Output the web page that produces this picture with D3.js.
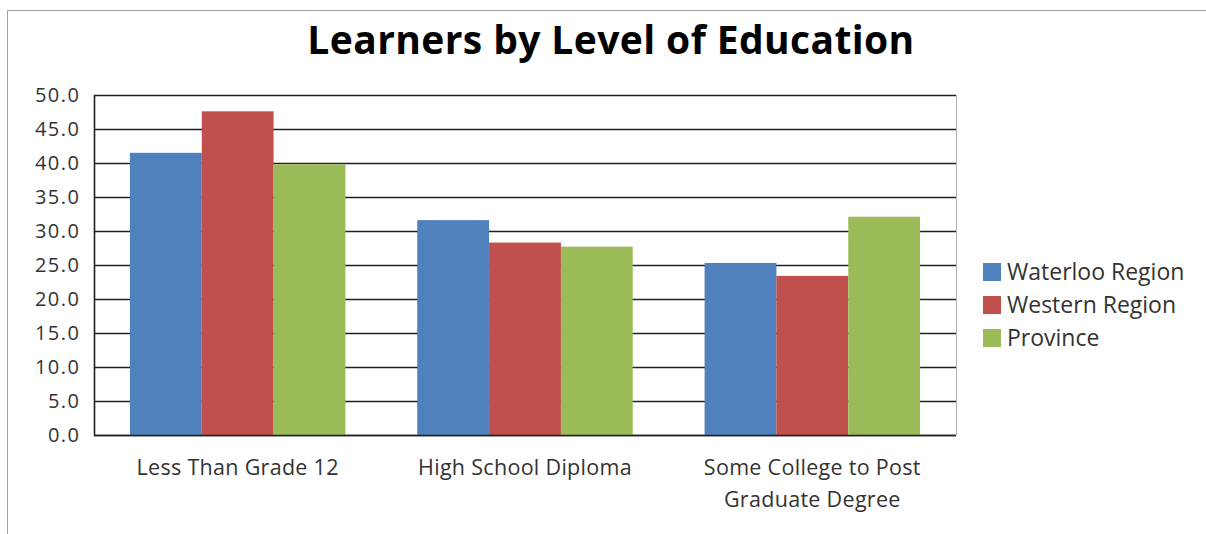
<!DOCTYPE html>
<html><head><meta charset="utf-8">
<script src="https://cdn.jsdelivr.net/npm/d3@7"></script>
<style>html,body{margin:0;padding:0;background:#fff;}svg{display:block;}</style>
</head><body>
<svg id="chart" width="1206" height="534"></svg>
<script>
const categories = ["Less Than Grade 12", "High School Diploma", "Some College to Post Graduate Degree"];
const categoryLines = [["Less Than Grade 12"], ["High School Diploma"], ["Some College to Post", "Graduate Degree"]];
const seriesNames = ["Waterloo Region", "Western Region", "Province"];
const waterloo = [41.5, 31.6, 25.3];
const western = [47.6, 28.3, 23.4];
const province = [39.8, 27.7, 32.1];
const yTicks = [0, 5, 10, 15, 20, 25, 30, 35, 40, 45, 50];
const colors = ["#4F81BD", "#C0504D", "#9BBB59"];
const seriesValues = [waterloo, western, province];

const svg = d3.select("#chart");
const font = "'Open Sans', sans-serif";
const textColor = "#333";

// outer frame
svg.append("path").attr("d", "M7.5,534 V10.5 H1206").attr("fill", "none").attr("stroke", "#a0a0a0").attr("stroke-width", 1);

const L = 94, R = 956, T = 95, B = 435;
const x0 = d3.scaleBand().domain(categories).range([L, R]).padding(0);
const x1 = d3.scaleBand().domain(seriesNames).range([0, x0.bandwidth()]).paddingInner(0).paddingOuter(0.5);
const y = d3.scaleLinear().domain([0, 50]).range([B, T]);

// plot border right (gray)
svg.append("line").attr("x1", R + 0.5).attr("x2", R + 0.5).attr("y1", T).attr("y2", B).attr("stroke", "#b0b0b0");

// gridlines
svg.append("g").selectAll("line").data(yTicks).join("line")
  .attr("x1", L).attr("x2", R)
  .attr("y1", d => Math.round(y(d)) + 0.5).attr("y2", d => Math.round(y(d)) + 0.5)
  .attr("stroke", "#202020").attr("stroke-width", 1.6);

// bars
const groups = svg.append("g").selectAll("g").data(categories).join("g")
  .attr("transform", d => `translate(${x0(d)},0)`);
groups.selectAll("rect").data((c, i) => seriesNames.map((s, j) => ({s, j, v: seriesValues[j][i]}))).join("rect")
  .attr("x", d => x1(d.s)).attr("width", x1.bandwidth())
  .attr("y", d => y(d.v)).attr("height", d => y(0) - y(d.v))
  .attr("fill", d => colors[d.j]);

// axes lines
svg.append("line").attr("x1", L + 0.5).attr("x2", L + 0.5).attr("y1", T).attr("y2", B + 1).attr("stroke", "#202020").attr("stroke-width", 1.6);
svg.append("line").attr("x1", L).attr("x2", R).attr("y1", B + 0.5).attr("y2", B + 0.5).attr("stroke", "#202020").attr("stroke-width", 1.6);

// y axis labels
const yAxis = d3.axisLeft(y).tickValues(yTicks).tickFormat(d3.format(".1f")).tickSize(0).tickPadding(13.5);
const ya = svg.append("g").attr("transform", `translate(${L},0)`).call(yAxis);
ya.select(".domain").remove();
ya.selectAll("text").attr("font-family", font).attr("font-size", 20).attr("letter-spacing", 1.5).attr("fill", textColor);

// x labels
const xl = svg.append("g").selectAll("text").data(categories).join("text")
  .attr("x", d => x0(d) + x0.bandwidth() / 2).attr("y", 475)
  .attr("text-anchor", "middle").attr("font-family", font).attr("font-size", 21.5).attr("letter-spacing", 0.3).attr("fill", textColor);
xl.each(function(d, i) {
  d3.select(this).selectAll("tspan").data(categoryLines[i]).join("tspan")
    .attr("x", x0(d) + x0.bandwidth() / 2).attr("dy", (t, k) => k === 0 ? 0 : 32).text(t => t);
});

// title
svg.append("text").attr("x", 611).attr("y", 54).attr("text-anchor", "middle")
  .attr("font-family", font).attr("font-weight", "bold").attr("font-size", 39).attr("letter-spacing", 0.4).attr("fill", "#000")
  .text("Learners by Level of Education");

// legend
const lg = svg.append("g").selectAll("g").data(seriesNames).join("g")
  .attr("transform", (d, i) => `translate(983,${263 + i * 33})`);
lg.append("rect").attr("width", 18).attr("height", 18).attr("fill", (d, i) => colors[i]);
lg.append("text").attr("x", 24).attr("y", 17)
  .attr("font-family", font).attr("font-size", 23).attr("fill", textColor).text(d => d);
</script>
</body></html>
